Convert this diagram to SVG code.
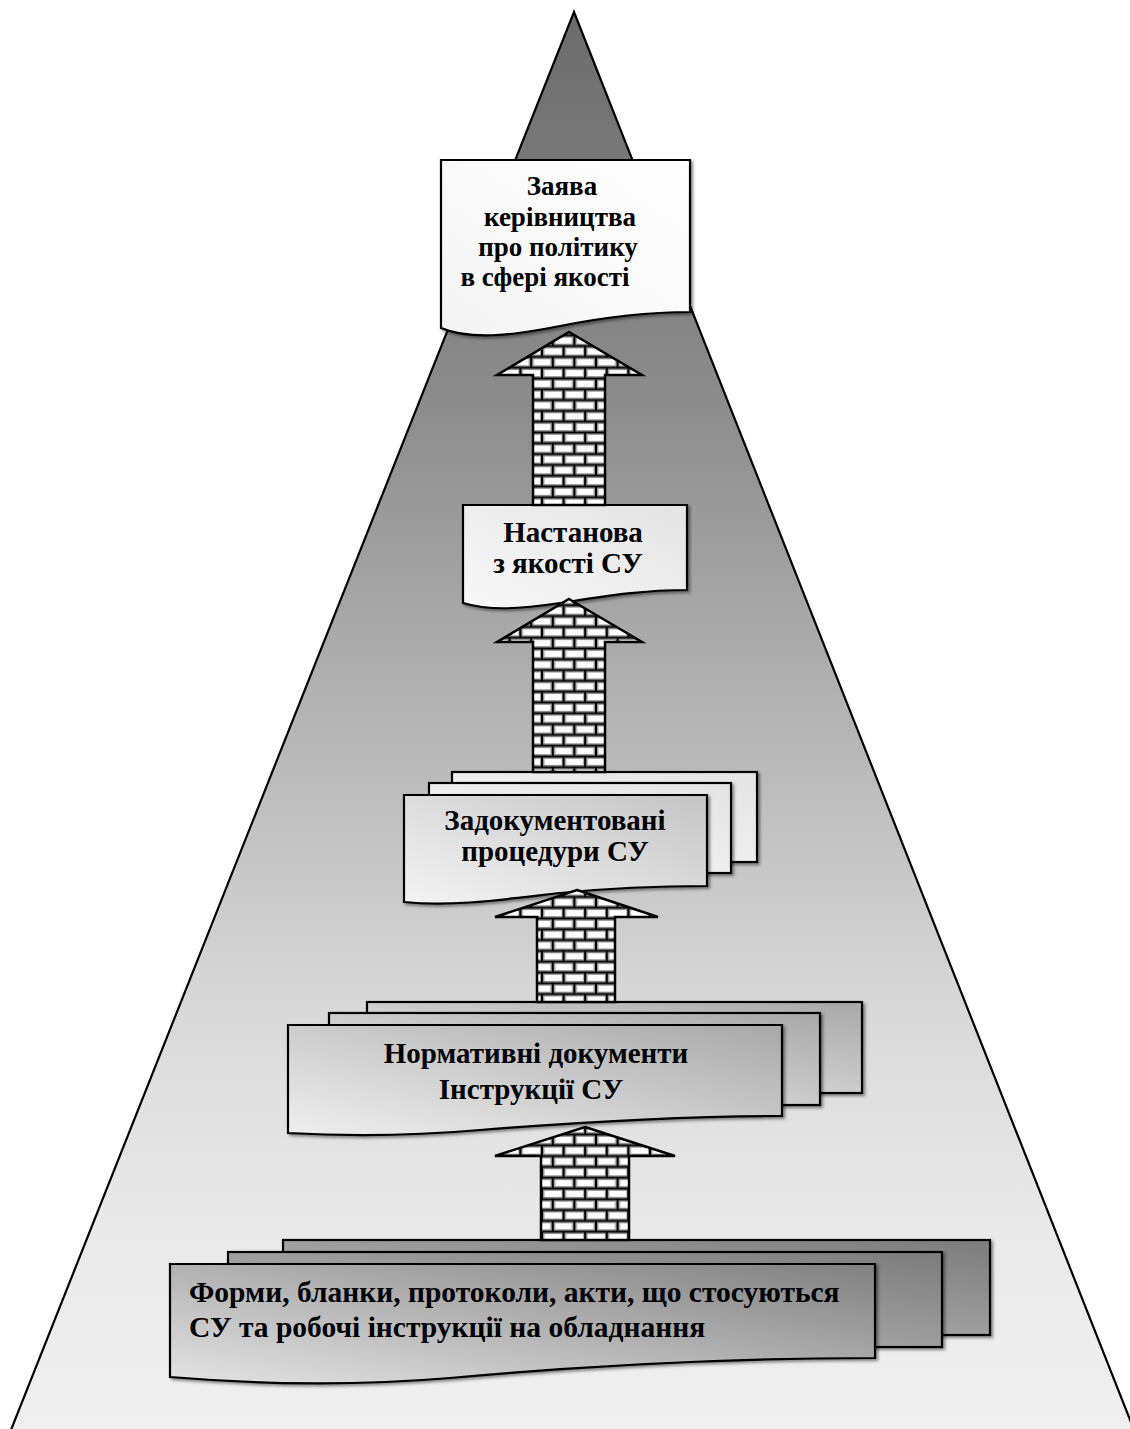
<svg xmlns="http://www.w3.org/2000/svg" width="1130" height="1429" viewBox="0 0 1130 1429">
<defs>
<linearGradient id="tri" gradientUnits="userSpaceOnUse" x1="0" y1="12" x2="0" y2="1429">
<stop offset="0" stop-color="#6c6c6c"/>
<stop offset="0.274" stop-color="#8c8c8c"/>
<stop offset="0.486" stop-color="#b2b2b2"/>
<stop offset="0.70" stop-color="#d8d8d8"/>
<stop offset="0.84" stop-color="#e8e8e8"/>
<stop offset="1" stop-color="#f0f0f0"/>
</linearGradient>
<linearGradient id="gWhite" x1="0" y1="1" x2="1" y2="0">
<stop offset="0" stop-color="#f4f4f4"/>
<stop offset="1" stop-color="#ffffff"/>
</linearGradient>
<linearGradient id="gLight" x1="0" y1="1" x2="1" y2="0">
<stop offset="0" stop-color="#f8f8f8"/>
<stop offset="1" stop-color="#e4e4e4"/>
</linearGradient>
<linearGradient id="gMid" x1="0" y1="1" x2="1" y2="0">
<stop offset="0" stop-color="#f4f4f4"/>
<stop offset="1" stop-color="#c4c4c4"/>
</linearGradient>
<linearGradient id="gMid2" x1="0" y1="1" x2="1" y2="0">
<stop offset="0" stop-color="#f0f0f0"/>
<stop offset="1" stop-color="#a8a8a8"/>
</linearGradient>
<linearGradient id="gDark" x1="0" y1="1" x2="1" y2="0">
<stop offset="0" stop-color="#e4e4e4"/>
<stop offset="1" stop-color="#808080"/>
</linearGradient>
<linearGradient id="gDarkBack" x1="0" y1="1" x2="1" y2="0">
<stop offset="0" stop-color="#c0c0c0"/>
<stop offset="1" stop-color="#7c7c7c"/>
</linearGradient>
<pattern id="brick" patternUnits="userSpaceOnUse" x="0" y="0" width="21.6" height="21.6">
<rect width="21.6" height="21.6" fill="#ffffff"/>
<g stroke="#9a9a9a" stroke-width="5" fill="none">
<path d="M0,0.5 H21.6 M0,11.3 H21.6 M0,22.1 H21.6 M2,0 V11.3 M12.8,11.3 V21.6"/>
</g>
<g stroke="#000" stroke-width="2" fill="none">
<path d="M0,0.5 H21.6 M0,11.3 H21.6 M0,22.1 H21.6 M2,0 V11.3 M12.8,11.3 V21.6"/>
</g>
</pattern>
<filter id="sh" x="-5%" y="-5%" width="110%" height="115%">
<feDropShadow dx="2" dy="2" stdDeviation="1.5" flood-color="#000" flood-opacity="0.45"/>
</filter>
</defs>
<style>
.sheet{stroke:#000;stroke-width:2.2;filter:url(#sh)}
.t{font-family:"Liberation Serif","Times New Roman",serif;font-weight:bold;fill:#000}
.arrow{fill:url(#brick);stroke:#000;stroke-width:2.5;stroke-linejoin:miter}
</style>

<polygon id="pyramid" points="574,12 1138,1440 7,1440" fill="url(#tri)" stroke="#000" stroke-width="2.2"/>

<g id="node-policy">
<path class="sheet" fill="url(#gWhite)" d="M441,160 H690 V312 C640,312 600,318 560,326 C510,336 470,340 441,328 Z"/>
<text class="t" font-size="27" text-anchor="middle"><tspan x="562" y="195">Заява</tspan><tspan x="560" y="226">керівництва</tspan><tspan x="558" y="256">про політику</tspan><tspan x="545" y="286">в сфері якості</tspan></text>
</g>

<g id="node-manual">
<path class="sheet" fill="url(#gLight)" d="M463,505 H687 V590 C640,590 600,597 560,603 C520,609 490,611 463,603 Z"/>
<text class="t" font-size="29" text-anchor="middle"><tspan x="573" y="542">Настанова</tspan><tspan x="568" y="573">з якості СУ</tspan></text>
</g>

<g id="node-procedures">
<rect class="sheet" fill="url(#gLight)" x="452" y="772" width="305" height="90"/>
<rect class="sheet" fill="url(#gLight)" x="429" y="783" width="302" height="90"/>
<path class="sheet" fill="url(#gMid)" d="M404,795 H707 V886 C650,886 600,889 560,893 C500,900 450,907 404,902 Z"/>
<text class="t" font-size="29" text-anchor="middle"><tspan x="555" y="830">Задокументовані</tspan><tspan x="555" y="861">процедури СУ</tspan></text>
</g>

<g id="node-normative">
<rect class="sheet" fill="url(#gMid2)" x="367" y="1002" width="495" height="91"/>
<rect class="sheet" fill="url(#gMid2)" x="329" y="1013" width="491" height="92"/>
<path class="sheet" fill="url(#gMid2)" d="M288,1025 H782 V1116 C680,1116 580,1122 480,1130 C400,1137 340,1136 288,1133 Z"/>
<text class="t" font-size="29" text-anchor="middle"><tspan x="536" y="1063">Нормативні документи</tspan><tspan x="531" y="1099">Інструкції СУ</tspan></text>
</g>

<g id="node-forms">
<rect class="sheet" fill="url(#gDarkBack)" x="283" y="1240" width="707" height="95"/>
<rect class="sheet" fill="url(#gDarkBack)" x="228" y="1252" width="714" height="95"/>
<path class="sheet" fill="url(#gDark)" d="M170,1264 H875 V1358 C700,1358 560,1368 450,1378 C330,1388 230,1382 170,1377 Z"/>
<text class="t" font-size="29.5"><tspan x="189" y="1302">Форми, бланки, протоколи, акти, що стосуються</tspan><tspan x="189" y="1337">СУ та робочі інструкції на обладнання</tspan></text>
</g>

<g id="connectors">
<path class="arrow" d="M569,332 L642,375 L605,375 L605,505 L533,505 L533,375 L497,375 Z"/>
<path class="arrow" d="M569,599 L642,642 L605,642 L605,772 L533,772 L533,642 L497,642 Z"/>
<path class="arrow" d="M577,890 L658,917 L615,917 L615,1002 L537,1002 L537,917 L495,917 Z"/>
<path class="arrow" d="M585,1127 L675,1156 L629,1156 L629,1240 L541,1240 L541,1156 L495,1156 Z"/>
</g>
</svg>
